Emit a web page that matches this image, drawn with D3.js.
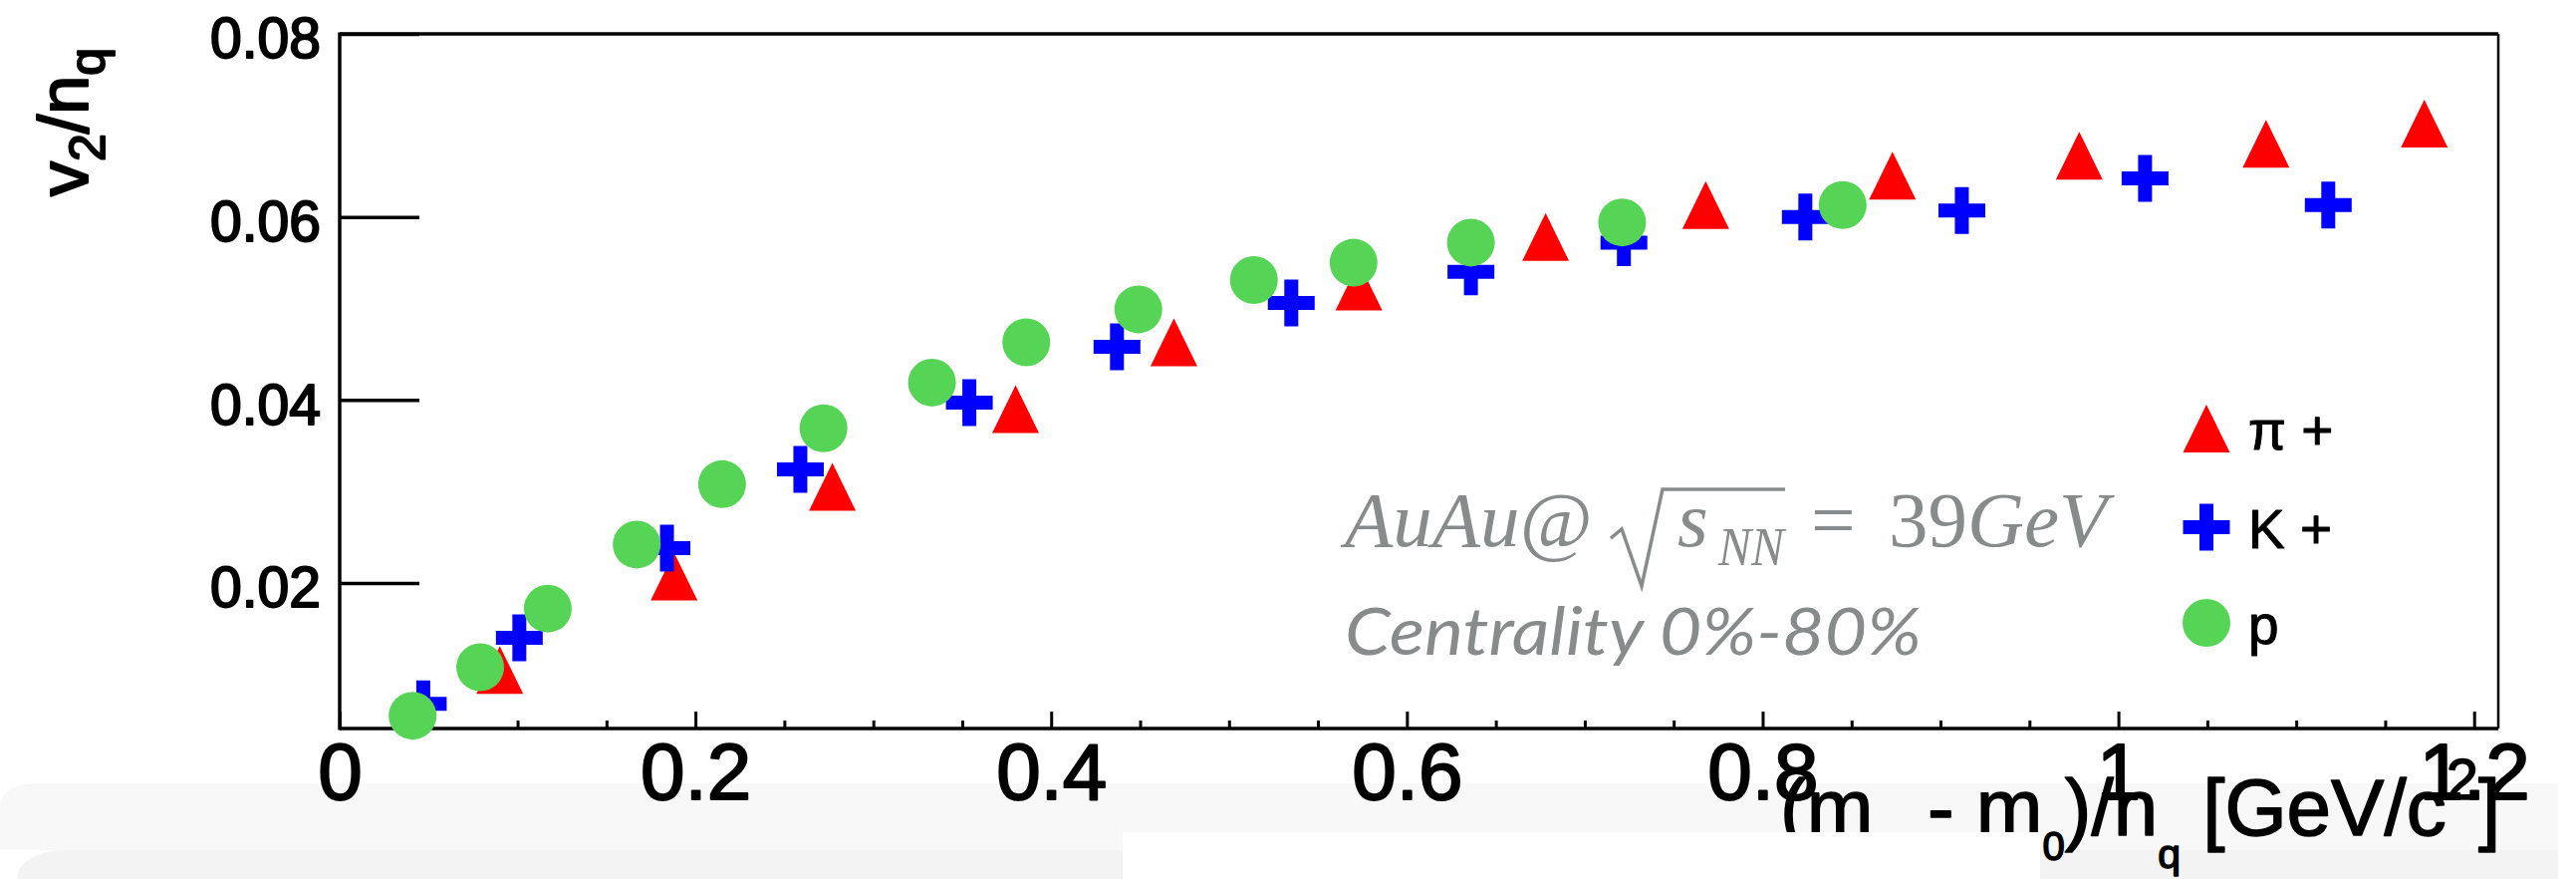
<!DOCTYPE html>
<html>
<head>
<meta charset="utf-8">
<script src="https://cdn.jsdelivr.net/npm/d3@7"></script>
<style>
  body { margin: 0; background: #fff; }
  svg { display: block; }
</style>
</head>
<body>
<div id="canvas"></div>
<script>
// values
const piX = [0.090, 0.188, 0.277, 0.380, 0.469, 0.573, 0.678, 0.768, 0.873, 0.978, 1.083, 1.172];
const piY = [0.0105, 0.0207, 0.0305, 0.0390, 0.0463, 0.0524, 0.0578, 0.0613, 0.0645, 0.0667, 0.0680, 0.0702];
const kX = [0.047, 0.101, 0.184, 0.259, 0.354, 0.437, 0.535, 0.636, 0.722, 0.824, 0.912, 1.015, 1.118];
const kY = [0.0068, 0.0140, 0.0238, 0.0324, 0.0397, 0.0458, 0.0506, 0.0540, 0.0572, 0.0600, 0.0607, 0.0642, 0.0613];
const pX = [0.041, 0.079, 0.117, 0.167, 0.215, 0.272, 0.333, 0.386, 0.449, 0.514, 0.570, 0.636, 0.721, 0.845];
const pY = [0.0055, 0.0108, 0.0172, 0.0242, 0.0308, 0.0369, 0.0419, 0.0463, 0.0499, 0.0531, 0.0550, 0.0572, 0.0594, 0.0613];

const xMajor = [0, 0.2, 0.4, 0.6, 0.8, 1, 1.2];
const xMinor = d3.range(0.05, 1.2, 0.05).filter(v => Math.abs(v / 0.2 - Math.round(v / 0.2)) > 0.01);
const yMajor = [0.02, 0.04, 0.06, 0.08];
const legendLabels = ['π +', 'K +', 'p'];

const width = 2586, height = 882;
const sans = "'Liberation Sans', Arial, Helvetica, sans-serif";
const serif = "'Liberation Serif', 'Times New Roman', serif";
const grey = '#878b8b';
const red = '#ff0000', blue = '#0000ff', green = '#55d455';

const svg = d3.select('#canvas').append('svg')
  .attr('width', width)
  .attr('height', height);

// slide background bands at the bottom
svg.append('path')
  .attr('d', 'M0,807 Q4,787 34,786 L2568,786 L2568,853 L0,853 Z')
  .attr('fill', '#f8f8f8');
svg.append('path')
  .attr('d', 'M18,874 Q30,853 68,853 L2568,853 L2568,882 L18,882 Z')
  .attr('fill', '#f3f3f3');

const plotL = 341, plotR = 2508, plotT = 34, plotB = 731;

const x = d3.scaleLinear().domain([0, 1.2136]).range([plotL, plotR]);
const y = d3.scaleLinear().domain([0.0041, 0.08]).range([plotB, plotT]);

// heavier look of the ROOT labels
const heavy = (sel, w) => sel.attr('stroke', '#000').attr('stroke-width', w).attr('stroke-linejoin', 'round');

// x axis title (partly hidden by a white box below, as in the slide)
const xt = svg.append('text')
  .attr('y', 838)
  .style('font-family', sans)
  .style('font-size', '80px')
  .attr('fill', '#000');
heavy(xt, 1.5);
xt.append('tspan').attr('x', 1787).text('(m');
xt.append('tspan').attr('x', 1935).text('- m');
xt.append('tspan').attr('dy', 25).style('font-size', '40px').text('0');
xt.append('tspan').attr('dy', -25).text(')/n');
xt.append('tspan').attr('dy', 33).style('font-size', '41px').text('q');
xt.append('tspan').attr('dy', -33).text(' [GeV/c');
xt.append('tspan').attr('dy', -36).style('font-size', '58px').text('2');
xt.append('tspan').attr('dy', 36).text(']');

svg.append('rect')
  .attr('x', 1127).attr('y', 835)
  .attr('width', 921).attr('height', 47)
  .attr('fill', '#fff');

// axes
const gx = svg.append('g')
  .attr('transform', `translate(0,${plotB})`)
  .call(d3.axisBottom(x).tickValues(xMajor).tickSizeInner(-17).tickSizeOuter(0).tickPadding(14)
    .tickFormat(d => String(+d.toFixed(1))));
gx.select('.domain').remove();
gx.selectAll('line').attr('stroke', '#000').attr('stroke-width', 3);
heavy(gx.selectAll('text'), 2)
  .style('font-family', sans)
  .style('font-size', '80px')
  .attr('fill', '#000');

const gxm = svg.append('g')
  .attr('transform', `translate(0,${plotB})`)
  .call(d3.axisBottom(x).tickValues(xMinor).tickSizeInner(-8).tickSizeOuter(0).tickFormat(''));
gxm.select('.domain').remove();
gxm.selectAll('line').attr('stroke', '#000').attr('stroke-width', 3);

const gy = svg.append('g')
  .attr('transform', `translate(${plotL},0)`)
  .call(d3.axisLeft(y).tickValues(yMajor).tickSizeInner(-80).tickSizeOuter(0).tickPadding(19)
    .tickFormat(d3.format('.2f')));
gy.select('.domain').remove();
gy.selectAll('line').attr('stroke', '#000').attr('stroke-width', 3.5);
heavy(gy.selectAll('text'), 2)
  .attr('dy', '0.42em')
  .style('font-family', sans)
  .style('font-size', '57px')
  .attr('fill', '#000');

// frame
svg.append('line').attr('x1', plotL).attr('x2', plotL).attr('y1', plotT - 1.5).attr('y2', plotB + 1.5)
  .attr('stroke', '#000').attr('stroke-width', 3.5);
svg.append('line').attr('x1', plotL).attr('x2', plotR).attr('y1', plotB).attr('y2', plotB)
  .attr('stroke', '#000').attr('stroke-width', 3.5);
svg.append('line').attr('x1', plotL).attr('x2', plotR).attr('y1', plotT).attr('y2', plotT)
  .attr('stroke', '#000').attr('stroke-width', 3.5);
svg.append('line').attr('x1', plotR).attr('x2', plotR).attr('y1', plotT).attr('y2', plotB)
  .attr('stroke', '#000').attr('stroke-width', 2.5);

// y axis title
const yt = svg.append('text')
  .attr('transform', 'translate(88,197) rotate(-90)')
  .style('font-family', sans)
  .style('font-size', '70px')
  .attr('fill', '#000');
heavy(yt, 2);
yt.append('tspan').text('v');
yt.append('tspan').attr('dy', 17).style('font-size', '50px').text('2');
yt.append('tspan').attr('dy', -17).text('/n');
yt.append('tspan').attr('dy', 17).style('font-size', '50px').text('q');

// marker shapes
const triPath = (cx, cy) => `M${cx},${cy - 24}L${cx + 23.5},${cy + 24}L${cx - 23.5},${cy + 24}Z`;
const crossPath = (cx, cy) => {
  const a = 23.5, t = 7;
  return `M${cx - t},${cy - a}H${cx + t}V${cy - t}H${cx + a}V${cy + t}H${cx + t}V${cy + a}H${cx - t}V${cy + t}H${cx - a}V${cy - t}H${cx - t}Z`;
};

const pions = piX.map((v, i) => ({ x: v, y: piY[i] }));
const kaons = kX.map((v, i) => ({ x: v, y: kY[i] }));
const protons = pX.map((v, i) => ({ x: v, y: pY[i] }));

svg.append('g').selectAll('path').data(pions).enter().append('path')
  .attr('d', d => triPath(x(d.x), y(d.y)))
  .attr('fill', red);

svg.append('g').selectAll('path').data(kaons).enter().append('path')
  .attr('d', d => crossPath(x(d.x), y(d.y)))
  .attr('fill', blue);

svg.append('g').selectAll('circle').data(protons).enter().append('circle')
  .attr('cx', d => x(d.x))
  .attr('cy', d => y(d.y))
  .attr('r', 24)
  .attr('fill', green);

// legend
const legY = [430, 529, 625];
const leg = svg.append('g');
leg.append('path').attr('d', triPath(2215, legY[0])).attr('fill', red);
leg.append('path').attr('d', crossPath(2215, legY[1])).attr('fill', blue);
leg.append('circle').attr('cx', 2215).attr('cy', legY[2]).attr('r', 24).attr('fill', green);
heavy(leg.selectAll('text').data(legendLabels).enter().append('text'), 1)
  .attr('x', 2257)
  .attr('y', (d, i) => legY[i] + 21)
  .style('font-family', sans)
  .style('font-size', '55px')
  .attr('fill', '#000')
  .text(d => d);

// annotation
const ann = svg.append('g').attr('fill', grey);
ann.append('text')
  .attr('x', 1350).attr('y', 548)
  .style('font-family', serif).style('font-style', 'italic').style('font-size', '79px')
  .text('AuAu@');
ann.append('path')
  .attr('d', 'M1617,540 L1628,531 L1648,588 L1669,491 L1792,491')
  .attr('fill', 'none')
  .attr('stroke', grey)
  .attr('stroke-width', 3.5);
ann.append('text')
  .attr('x', 1684).attr('y', 548)
  .style('font-family', serif).style('font-style', 'italic').style('font-size', '79px')
  .text('s');
ann.append('text')
  .attr('x', 1725).attr('y', 567)
  .attr('textLength', 66)
  .attr('lengthAdjust', 'spacingAndGlyphs')
  .style('font-family', serif).style('font-style', 'italic').style('font-size', '54px')
  .text('NN');
ann.append('text')
  .attr('x', 1818).attr('y', 548)
  .style('font-family', serif).style('font-size', '79px')
  .text('=');
const gev = ann.append('text')
  .attr('x', 1896).attr('y', 548)
  .style('font-family', serif).style('font-size', '79px');
gev.append('tspan').text('39');
gev.append('tspan').style('font-style', 'italic').text('GeV');
ann.append('text')
  .attr('x', 1350).attr('y', 657)
  .attr('textLength', 579)
  .attr('lengthAdjust', 'spacingAndGlyphs')
  .style('font-family', "Lato, 'Open Sans', sans-serif").style('font-style', 'italic').style('font-size', '66px')
  .text('Centrality 0%-80%');
</script>
</body>
</html>
